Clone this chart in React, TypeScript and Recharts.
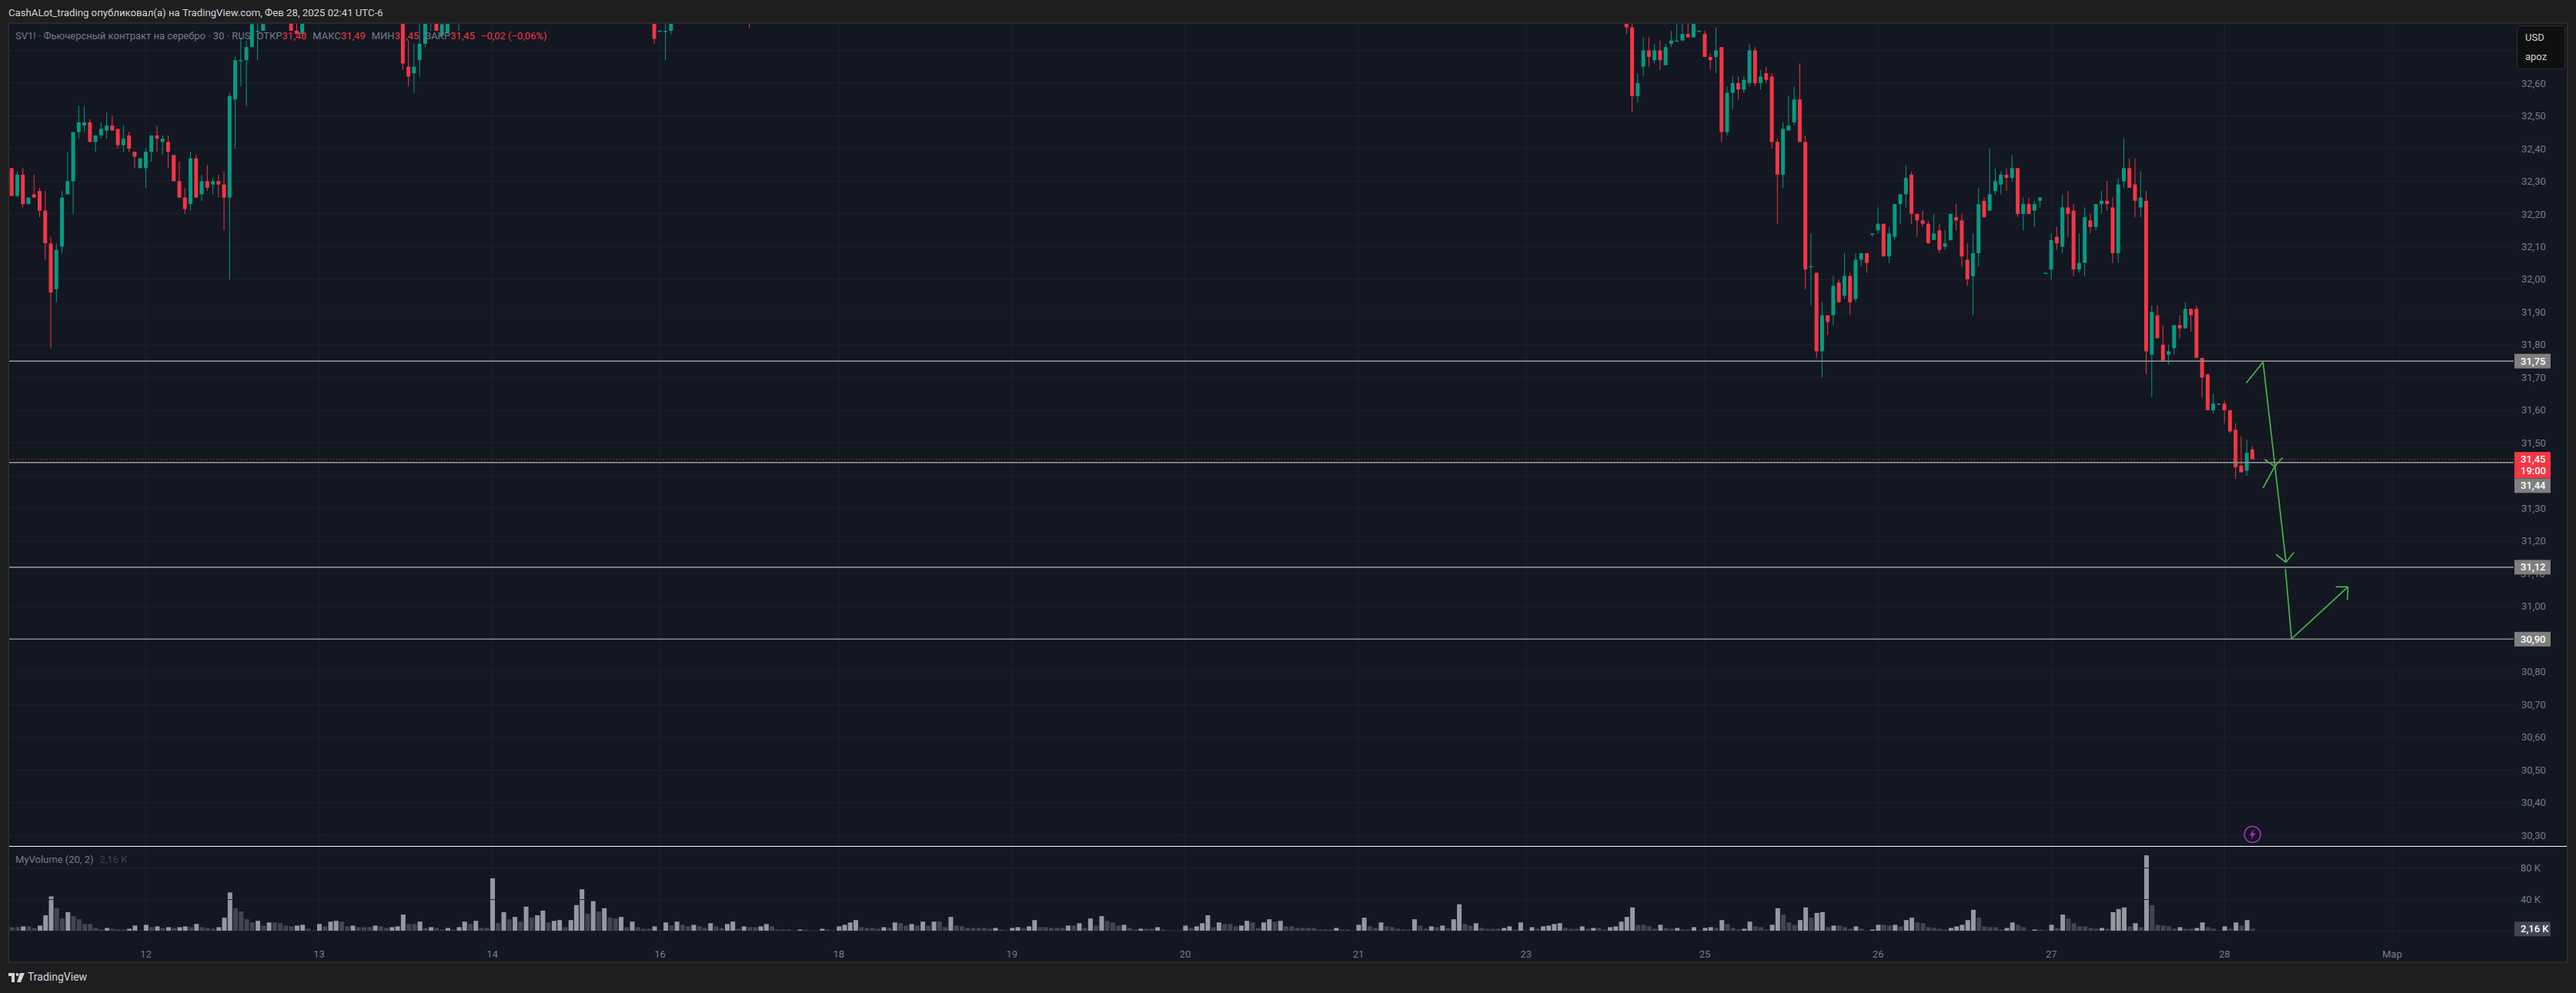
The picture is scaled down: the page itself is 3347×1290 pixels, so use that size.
import { Bar, Cell, CartesianGrid, ComposedChart, ReferenceDot, ReferenceLine, XAxis, YAxis } from 'recharts'

const GREEN = '#089981'
const RED = '#f23645'
const TEXT = '#787b86'
const GRID = '#1e222c'

type Ohlc = [number, number, number, number]

// open, high, low, close. Candles scrolled off the top of the pane are left out
const candlesA: Ohlc[] = [
  [32.34, 32.34, 32.255, 32.255], [32.255, 32.33, 32.25, 32.32], [32.32, 32.34, 32.22, 32.23], [32.23, 32.25, 32.23, 32.25],
  [32.26, 32.32, 32.25, 32.25], [32.27, 32.28, 32.19, 32.21], [32.21, 32.27, 32.06, 32.11], [32.11, 32.13, 31.79, 31.96],
  [31.97, 32.11, 31.93, 32.09], [32.1, 32.27, 32.08, 32.25], [32.26, 32.39, 32.26, 32.3], [32.3, 32.45, 32.2, 32.45],
  [32.45, 32.53, 32.43, 32.48], [32.47, 32.53, 32.45, 32.48], [32.48, 32.49, 32.42, 32.42], [32.42, 32.44, 32.39, 32.44],
  [32.44, 32.48, 32.43, 32.46], [32.455, 32.51, 32.43, 32.47], [32.47, 32.5, 32.455, 32.455], [32.46, 32.46, 32.4, 32.41],
  [32.41, 32.47, 32.39, 32.43], [32.44, 32.45, 32.39, 32.4], [32.39, 32.39, 32.34, 32.375], [32.34, 32.37, 32.34, 32.37],
  [32.34, 32.4, 32.28, 32.39], [32.39, 32.44, 32.36, 32.44], [32.44, 32.47, 32.39, 32.43], [32.42, 32.44, 32.38, 32.43],
  [32.42, 32.44, 32.34, 32.39], [32.38, 32.38, 32.3, 32.3], [32.3, 32.36, 32.25, 32.25], [32.25, 32.28, 32.2, 32.215],
  [32.23, 32.39, 32.21, 32.37], [32.37, 32.38, 32.25, 32.25], [32.26, 32.32, 32.24, 32.3], [32.3, 32.35, 32.27, 32.28],
  [32.29, 32.31, 32.26, 32.3], [32.3, 32.32, 32.25, 32.29], [32.29, 32.33, 32.15, 32.25], [32.25, 32.57, 32.0, 32.56],
  [32.55, 32.68, 32.4, 32.67], [32.67, 32.74, 32.59, 32.67], [32.67, 32.73, 32.53, 32.71], [32.71, 32.82, 32.71, 32.78],
  [32.76, 32.85, 32.67, 32.76], [32.76, 32.82, 32.76, 32.8],
]
const candlesB: Ohlc[] = [
  [32.85, 32.88, 32.76, 32.76], [32.76, 32.85, 32.75, 32.75], [32.75, 32.85, 32.75, 32.82],
]
const candlesC: Ohlc[] = [
  [32.85, 32.88, 32.64, 32.66], [32.65, 32.73, 32.59, 32.62], [32.63, 32.72, 32.57, 32.65], [32.67, 32.78, 32.62, 32.72],
  [32.72, 32.85, 32.71, 32.8], [32.8, 32.85, 32.76, 32.82], [32.8, 32.85, 32.76, 32.76], [32.745, 32.85, 32.74, 32.78],
  [32.755, 32.85, 32.75, 32.79], [32.8, 32.85, 32.78, 32.82], [32.8, 32.88, 32.76, 32.85],
]
const candlesD: Ohlc[] = [
  [32.85, 32.88, 32.72, 32.735], [32.76, 32.76, 32.76, 32.76], [32.76, 32.78, 32.67, 32.76], [32.76, 32.85, 32.75, 32.85],
]
const candlesE: Ohlc[] = [[33.0, 33.0, 32.77, 32.9]]
const candlesF: Ohlc[] = [
  [32.85, 32.88, 32.75, 32.77], [32.77, 32.82, 32.51, 32.56], [32.56, 32.63, 32.54, 32.6], [32.65, 32.74, 32.62, 32.7],
  [32.7, 32.74, 32.65, 32.68], [32.67, 32.72, 32.66, 32.7], [32.7, 32.73, 32.64, 32.67], [32.655, 32.72, 32.655, 32.71],
  [32.72, 32.76, 32.71, 32.73], [32.73, 32.79, 32.73, 32.73], [32.73, 32.79, 32.73, 32.75], [32.75, 32.8, 32.74, 32.74],
  [32.74, 32.8, 32.74, 32.79], [32.76, 32.76, 32.76, 32.76], [32.75, 32.76, 32.68, 32.68], [32.68, 32.69, 32.64, 32.67],
  [32.68, 32.77, 32.63, 32.7], [32.71, 32.71, 32.42, 32.45], [32.45, 32.59, 32.44, 32.57], [32.57, 32.62, 32.52, 32.6],
  [32.6, 32.62, 32.55, 32.58], [32.58, 32.62, 32.57, 32.61], [32.6, 32.72, 32.59, 32.7], [32.7, 32.71, 32.59, 32.6],
  [32.6, 32.64, 32.58, 32.62], [32.63, 32.65, 32.6, 32.61], [32.62, 32.63, 32.4, 32.42], [32.42, 32.43, 32.17, 32.32],
  [32.32, 32.48, 32.28, 32.46], [32.455, 32.56, 32.455, 32.47], [32.48, 32.59, 32.47, 32.55], [32.55, 32.66, 32.42, 32.42],
  [32.42, 32.44, 31.97, 32.03], [32.04, 32.14, 31.92, 32.04], [32.02, 32.02, 31.76, 31.78], [31.78, 31.93, 31.7, 31.89],
  [31.89, 31.89, 31.83, 31.87], [31.89, 32.01, 31.86, 31.98], [31.99, 32.0, 31.93, 31.93], [31.95, 32.08, 31.94, 32.01],
  [32.01, 32.02, 31.89, 31.93], [31.94, 32.08, 31.93, 32.06], [32.06, 32.08, 32.04, 32.08], [32.08, 32.08, 32.02, 32.05],
  [32.14, 32.14, 32.13, 32.14], [32.15, 32.22, 32.14, 32.17], [32.17, 32.17, 32.07, 32.07], [32.07, 32.16, 32.05, 32.14],
  [32.13, 32.23, 32.12, 32.23], [32.23, 32.26, 32.17, 32.26], [32.26, 32.35, 32.22, 32.31], [32.32, 32.33, 32.17, 32.2],
  [32.2, 32.2, 32.13, 32.18], [32.18, 32.21, 32.16, 32.17], [32.17, 32.18, 32.11, 32.11], [32.12, 32.2, 32.12, 32.14],
  [32.15, 32.17, 32.08, 32.09], [32.1, 32.15, 32.09, 32.11], [32.12, 32.2, 32.12, 32.2], [32.19, 32.23, 32.15, 32.18],
  [32.18, 32.2, 32.04, 32.07], [32.06, 32.11, 31.98, 32.0], [32.01, 32.14, 31.89, 32.08], [32.08, 32.28, 32.04, 32.23],
  [32.24, 32.25, 32.19, 32.19], [32.21, 32.4, 32.21, 32.26], [32.27, 32.34, 32.26, 32.3], [32.29, 32.33, 32.26, 32.32],
  [32.32, 32.34, 32.27, 32.31], [32.31, 32.38, 32.3, 32.34], [32.34, 32.34, 32.19, 32.2], [32.2, 32.25, 32.15, 32.23],
  [32.23, 32.25, 32.2, 32.2], [32.21, 32.24, 32.16, 32.23], [32.24, 32.25, 32.22, 32.25], [32.02, 32.02, 32.02, 32.02],
  [32.03, 32.14, 32.0, 32.12], [32.13, 32.16, 32.09, 32.11], [32.1, 32.26, 32.08, 32.22], [32.22, 32.27, 32.13, 32.2],
  [32.21, 32.23, 32.01, 32.03], [32.03, 32.14, 32.02, 32.05], [32.05, 32.22, 32.01, 32.19], [32.18, 32.2, 32.14, 32.16],
  [32.16, 32.23, 32.15, 32.23], [32.23, 32.27, 32.2, 32.24], [32.24, 32.3, 32.21, 32.23], [32.22, 32.25, 32.05, 32.08],
  [32.08, 32.31, 32.05, 32.29], [32.3, 32.43, 32.28, 32.34], [32.34, 32.37, 32.28, 32.28], [32.29, 32.37, 32.19, 32.24],
  [32.22, 32.33, 32.19, 32.25], [32.24, 32.27, 31.71, 31.78], [31.77, 31.92, 31.64, 31.9], [31.89, 31.92, 31.82, 31.82],
  [31.8, 31.86, 31.75, 31.75], [31.77, 31.8, 31.74, 31.78], [31.79, 31.86, 31.77, 31.86], [31.86, 31.89, 31.82, 31.85],
  [31.85, 31.93, 31.85, 31.91], [31.91, 31.91, 31.84, 31.89], [31.91, 31.92, 31.76, 31.76], [31.76, 31.76, 31.64, 31.7],
  [31.71, 31.71, 31.6, 31.6], [31.6, 31.65, 31.59, 31.62], [31.62, 31.62, 31.62, 31.62], [31.62, 31.63, 31.56, 31.6],
  [31.6, 31.6, 31.53, 31.535], [31.54, 31.56, 31.39, 31.425], [31.43, 31.52, 31.41, 31.41], [31.415, 31.51, 31.4, 31.47],
  [31.48, 31.49, 31.45, 31.45],
]
const candleRuns: [number, Ohlc[]][] = [[0, candlesA], [50, candlesB], [70, candlesC], [115, candlesD], [132, candlesE], [289, candlesF]]

// volume per bar, thousands
const volumes = [
  5, 5, 6, 6, 4, 7, 20, 44, 29, 16, 24, 19, 15, 9, 9, 4, 2, 4, 3, 2,
  2, 3, 7, 1, 8, 5, 6, 4, 5, 4, 5, 6, 5, 9, 5, 4, 3, 5, 17, 49,
  29, 25, 15, 11, 13, 7, 11, 11, 10, 7, 6, 7, 8, 3, 1, 9, 6, 12, 13, 12,
  6, 7, 5, 5, 5, 7, 6, 4, 5, 6, 21, 9, 9, 12, 4, 5, 4, 2, 4, 2,
  5, 12, 9, 13, 4, 4, 67, 10, 24, 15, 18, 12, 31, 17, 20, 26, 11, 13, 14, 5,
  14, 33, 53, 22, 38, 25, 29, 17, 16, 18, 5, 12, 5, 3, 3, 6, 1, 11, 7, 12,
  8, 6, 8, 6, 4, 10, 6, 4, 9, 12, 3, 6, 5, 5, 6, 9, 6, 2, 2, 2,
  1, 2, 2, 1, 1, 3, 2, 1, 6, 8, 11, 14, 5, 4, 4, 3, 5, 4, 11, 10,
  7, 9, 7, 12, 7, 12, 12, 5, 18, 7, 6, 4, 4, 4, 4, 3, 4, 2, 1, 4,
  5, 4, 6, 14, 5, 5, 4, 4, 4, 7, 7, 10, 4, 16, 7, 19, 13, 11, 7, 8,
  4, 2, 3, 3, 3, 5, 2, 1, 1, 1, 7, 4, 6, 10, 20, 5, 11, 9, 9, 6,
  7, 13, 11, 4, 11, 15, 12, 13, 6, 6, 4, 4, 4, 4, 2, 2, 2, 4, 2, 2,
  1, 8, 17, 6, 4, 11, 6, 5, 3, 2, 2, 15, 7, 3, 6, 5, 7, 4, 15, 34,
  9, 7, 10, 4, 3, 3, 3, 4, 6, 2, 11, 1, 5, 3, 6, 7, 9, 10, 4, 3,
  3, 6, 3, 4, 4, 2, 5, 6, 12, 18, 30, 8, 8, 6, 3, 8, 4, 3, 4, 2,
  2, 5, 1, 4, 5, 4, 14, 9, 4, 2, 3, 12, 6, 5, 2, 8, 29, 21, 11, 8,
  14, 30, 17, 23, 24, 5, 7, 7, 5, 3, 6, 3, 1, 2, 8, 8, 7, 8, 6, 14,
  17, 11, 10, 5, 4, 3, 2, 4, 6, 8, 14, 27, 17, 6, 5, 5, 2, 4, 11, 8,
  5, 1, 2, 2, 1, 8, 4, 21, 16, 10, 6, 6, 4, 3, 4, 3, 24, 28, 30, 6,
  10, 5, 96, 33, 8, 7, 6, 3, 5, 3, 3, 4, 11, 5, 3, 1, 6, 3, 11, 7,
  14, 3,
]

const dayTicks = [24, 55, 86, 116, 148, 179, 210, 241, 271, 303, 334, 365, 396, 426]
const dayLabels = ['12', '13', '14', '16', '18', '19', '20', '21', '23', '25', '26', '27', '28', 'Мар']
const priceGrid = [32.7, 32.6, 32.5, 32.4, 32.3, 32.2, 32.1, 32.0, 31.9, 31.8, 31.7, 31.6, 31.5, 31.4, 31.3, 31.2, 31.1, 31.0, 30.9, 30.8, 30.7, 30.6, 30.5, 30.4, 30.3]
// 32,70 31,40 and 30,90 sit behind the box and the badges
const priceTicks = [32.6, 32.5, 32.4, 32.3, 32.2, 32.1, 32.0, 31.9, 31.8, 31.7, 31.6, 31.5, 31.3, 31.2, 31.0, 30.8, 30.7, 30.6, 30.5, 30.4, 30.3]
const volumeTicks = [0, 40, 80]
const levels = [31.75, 31.44, 31.12, 30.9]
const lastPrice = 31.45
const lastVolumeLabel = '2,16 K'

// hand drawn arrows, [bar, price] points
const arrows: [number, number][][] = [
  [[399.9, 31.683], [402.9, 31.747], [407, 31.135]],
  [[405.2, 31.159], [407, 31.135], [408.4, 31.165]],
  [[403.2, 31.449], [405, 31.428]],
  [[406.4, 31.455], [405, 31.428], [402.9, 31.362]],
  [[406.9, 31.115], [408, 30.901], [418.1, 31.06]],
  [[415.9, 31.06], [418.1, 31.06], [418, 31.02]],
]
const arrowSegments = arrows.flatMap((pts) => pts.slice(1).map((p, k) => [pts[k], p]))

const rows = volumes.map((vol, i) => {
  const run = candleRuns.find(([start, list]) => i >= start && i < start + list.length)
  const c = run ? run[1][i - run[0]] : null
  return {
    i,
    vol,
    rising: i > 0 && vol > volumes[i - 1],
    open: c ? c[0] : null,
    high: c ? c[1] : null,
    low: c ? c[2] : null,
    close: c ? c[3] : null,
    range: c ? [c[2], c[1]] : null,
  }
})

const fmtPrice = (v: number) => v.toFixed(2).replace('.', ',')

function Candle(props: any) {
  const { x, y, width, height, payload } = props
  if (payload.high == null) return null
  const { open, high, low, close } = payload
  const k = high > low ? height / (high - low) : 0
  const top = y + (high - Math.max(open, close)) * k
  const bodyH = Math.max(Math.abs(open - close) * k, 1.5)
  const color = close >= open ? GREEN : RED
  const cx = x + width / 2
  return (
    <g>
      <rect x={cx - 0.5} y={y} width={1} height={Math.max(height, 1)} fill={color} />
      <rect x={x} y={top} width={width} height={bodyH} fill={color} />
    </g>
  )
}

function Badge(props: any) {
  const { viewBox, text, sub, fill, dy = 0, h = 19 } = props
  const left = viewBox.x + viewBox.width + 1
  const top = viewBox.y - 9.5 + dy
  return (
    <g>
      <rect x={left} y={top} width={47} height={h} fill={fill} />
      <text x={left + 8} y={top + 14} fill="#fff" fontSize={13} fontWeight={500} fontFamily="Roboto">{text}</text>
      {sub && <text x={left + 8} y={top + 29} fill="#fff" fontSize={13} fontWeight={500} fontFamily="Roboto">{sub}</text>}
    </g>
  )
}

function AxisLabel(props: any) {
  const { viewBox, text } = props
  return <text x={viewBox.x + viewBox.width + 9} y={viewBox.y + 4.5} fill={TEXT} fontSize={13} fontFamily="Roboto">{text}</text>
}

function Bolt(props: any) {
  const { cx, cy } = props
  return (
    <g>
      <circle cx={cx} cy={cy} r={10.5} fill="#131722" stroke="#a52fb8" strokeWidth={1.6} />
      <path d={`M${cx + 2} ${cy - 7} L${cx - 4} ${cy + 1.5} H${cx - 0.5} L${cx - 2} ${cy + 7} L${cx + 4} ${cy - 1.5} H${cx + 0.5} Z`} fill="#a52fb8" />
    </g>
  )
}

const legendParts: [string, string][] = [
  ['SV1! · Фьючерсный контракт на серебро · 30 · RUS', TEXT],
  ['ОТКР', TEXT], ['31,48', RED], ['МАКС', TEXT], ['31,49', RED], ['МИН', TEXT], ['31,45', RED], ['ЗАКР', TEXT], ['31,45', RED],
  ['−0,02 (−0,06%)', RED],
]

export default function App() {
  return (
    <div style={{ position: 'fixed', left: 0, top: 0, width: 3347, height: 1290, background: '#1e1e1e', fontFamily: 'Roboto', fontSize: 13, overflow: 'hidden' }}>
      <div style={{ position: 'absolute', left: 10, top: 29, width: 3327, height: 1222, background: '#131722', border: '2px solid #2a2a2a', boxSizing: 'border-box' }} />
      <div style={{ position: 'absolute', left: 0, top: 0 }}>
        <ComposedChart width={3347} height={1290} data={rows} margin={{ top: 31, right: 10, bottom: 40, left: 12 }}>
          <CartesianGrid stroke={GRID} yAxisId="price" horizontalValues={priceGrid} verticalValues={dayTicks} />
          <XAxis
            dataKey="i"
            type="number"
            domain={[-0.455, 447.75]}
            allowDataOverflow
            ticks={dayTicks}
            interval={0}
            height={30}
            axisLine={false}
            tickLine={false}
            tickMargin={9}
            tick={{ fill: TEXT, fontSize: 13, fontFamily: 'Roboto' }}
            tickFormatter={(v: number) => dayLabels[dayTicks.indexOf(v)]}
          />
          {/* second x axis so volume bars and candles don't share a bar slot */}
          <XAxis xAxisId="volx" dataKey="i" type="number" domain={[-0.455, 447.75]} allowDataOverflow hide />
          <YAxis
            yAxisId="price"
            orientation="right"
            width={71}
            domain={[29.983, 32.781]}
            allowDataOverflow
            ticks={priceTicks}
            interval={0}
            axisLine={false}
            tickLine={false}
            tickMargin={4}
            tick={{ fill: TEXT, fontSize: 13, fontFamily: 'Roboto', textAnchor: 'start' }}
            tickFormatter={fmtPrice}
          />
          <YAxis yAxisId="vol" hide domain={[-10.15, 1149.9]} allowDataOverflow />
          {volumeTicks.map((v) => (
            <ReferenceLine key={v} yAxisId="vol" y={v} stroke={GRID} label={v > 0 ? <AxisLabel text={`${v} K`} /> : undefined} />
          ))}
          <Bar xAxisId="volx" yAxisId="vol" dataKey="vol" barSize={6} isAnimationActive={false}>
            {rows.map((r) => (
              <Cell key={r.i} fill={r.rising ? '#9598a1' : '#434651'} />
            ))}
          </Bar>
          <Bar yAxisId="price" dataKey="range" barSize={5} isAnimationActive={false} shape={<Candle />} />
          <ReferenceLine yAxisId="price" y={lastPrice} stroke={RED} strokeDasharray="1 3" />
          <ReferenceLine yAxisId="price" y={31.1} stroke="none" label={<AxisLabel text="31,10" />} />
          {levels.map((p) => (
            <ReferenceLine
              key={p}
              yAxisId="price"
              y={p}
              stroke="#8a8a8a"
              strokeWidth={1.6}
              label={<Badge text={fmtPrice(p)} fill="#7f7f7f" dy={p === 31.44 ? 30 : 0} />}
            />
          ))}
          <ReferenceLine yAxisId="price" y={lastPrice} stroke="none" label={<Badge text={fmtPrice(lastPrice)} sub="19:00" fill={RED} h={34} />} />
          {arrowSegments.map((seg, k) => (
            <ReferenceLine
              key={k}
              yAxisId="price"
              segment={[{ x: seg[0][0], y: seg[0][1] }, { x: seg[1][0], y: seg[1][1] }]}
              stroke="#4caf50"
              strokeWidth={1.7}
            />
          ))}
          <ReferenceDot yAxisId="price" x={401} y={30.303} shape={<Bolt />} />
          <ReferenceLine yAxisId="vol" y={2.16} stroke="none" label={<Badge text={lastVolumeLabel} fill="#434651" dy={-0.5} />} />
        </ComposedChart>
      </div>

      <div style={{ position: 'absolute', left: 12, top: 1099, width: 3323, height: 1, background: '#fff' }} />

      <div style={{ position: 'absolute', left: 11, top: 9, color: '#d1d4dc', fontSize: 13.2, whiteSpace: 'nowrap' }}>
        CashALot_trading опубликовал(а) на TradingView.com, Фев 28, 2025 02:41 UTC-6
      </div>
      <div style={{ position: 'absolute', left: 20, top: 39, whiteSpace: 'nowrap' }}>
        {legendParts.map(([t, c], k) => (
          <span key={k} style={{ color: c, marginLeft: k === 0 ? 0 : c === TEXT || k === 9 ? 8 : 0 }}>{t}</span>
        ))}
      </div>
      <div style={{ position: 'absolute', left: 20, top: 1109, whiteSpace: 'nowrap', color: TEXT }}>
        MyVolume (20, 2)<span style={{ marginLeft: 8, color: '#3f424d' }}>{lastVolumeLabel}</span>
      </div>

      <div style={{ position: 'absolute', left: 3270, top: 33, width: 63, height: 57, background: '#0f0f0f', border: '1px solid #2a2e39', borderRadius: 5, boxSizing: 'border-box', color: '#d1d4dc', paddingLeft: 10 }}>
        <div style={{ position: 'absolute', top: 7 }}>USD</div>
        <div style={{ position: 'absolute', top: 32 }}>apoz</div>
      </div>

      <svg style={{ position: 'absolute', left: 11, top: 1264 }} width={21} height={12} viewBox="0 0 21 12">
        <path d="M0 0H8V12H4V4H0Z M11.5 0 A2 2 0 1 1 11.49 0 Z M15 0H21L16 12H11Z" fill="#d1d4dc" />
      </svg>
      <div style={{ position: 'absolute', left: 36, top: 1261, color: '#d1d4dc', fontSize: 14, whiteSpace: 'nowrap' }}>TradingView</div>
    </div>
  )
}
